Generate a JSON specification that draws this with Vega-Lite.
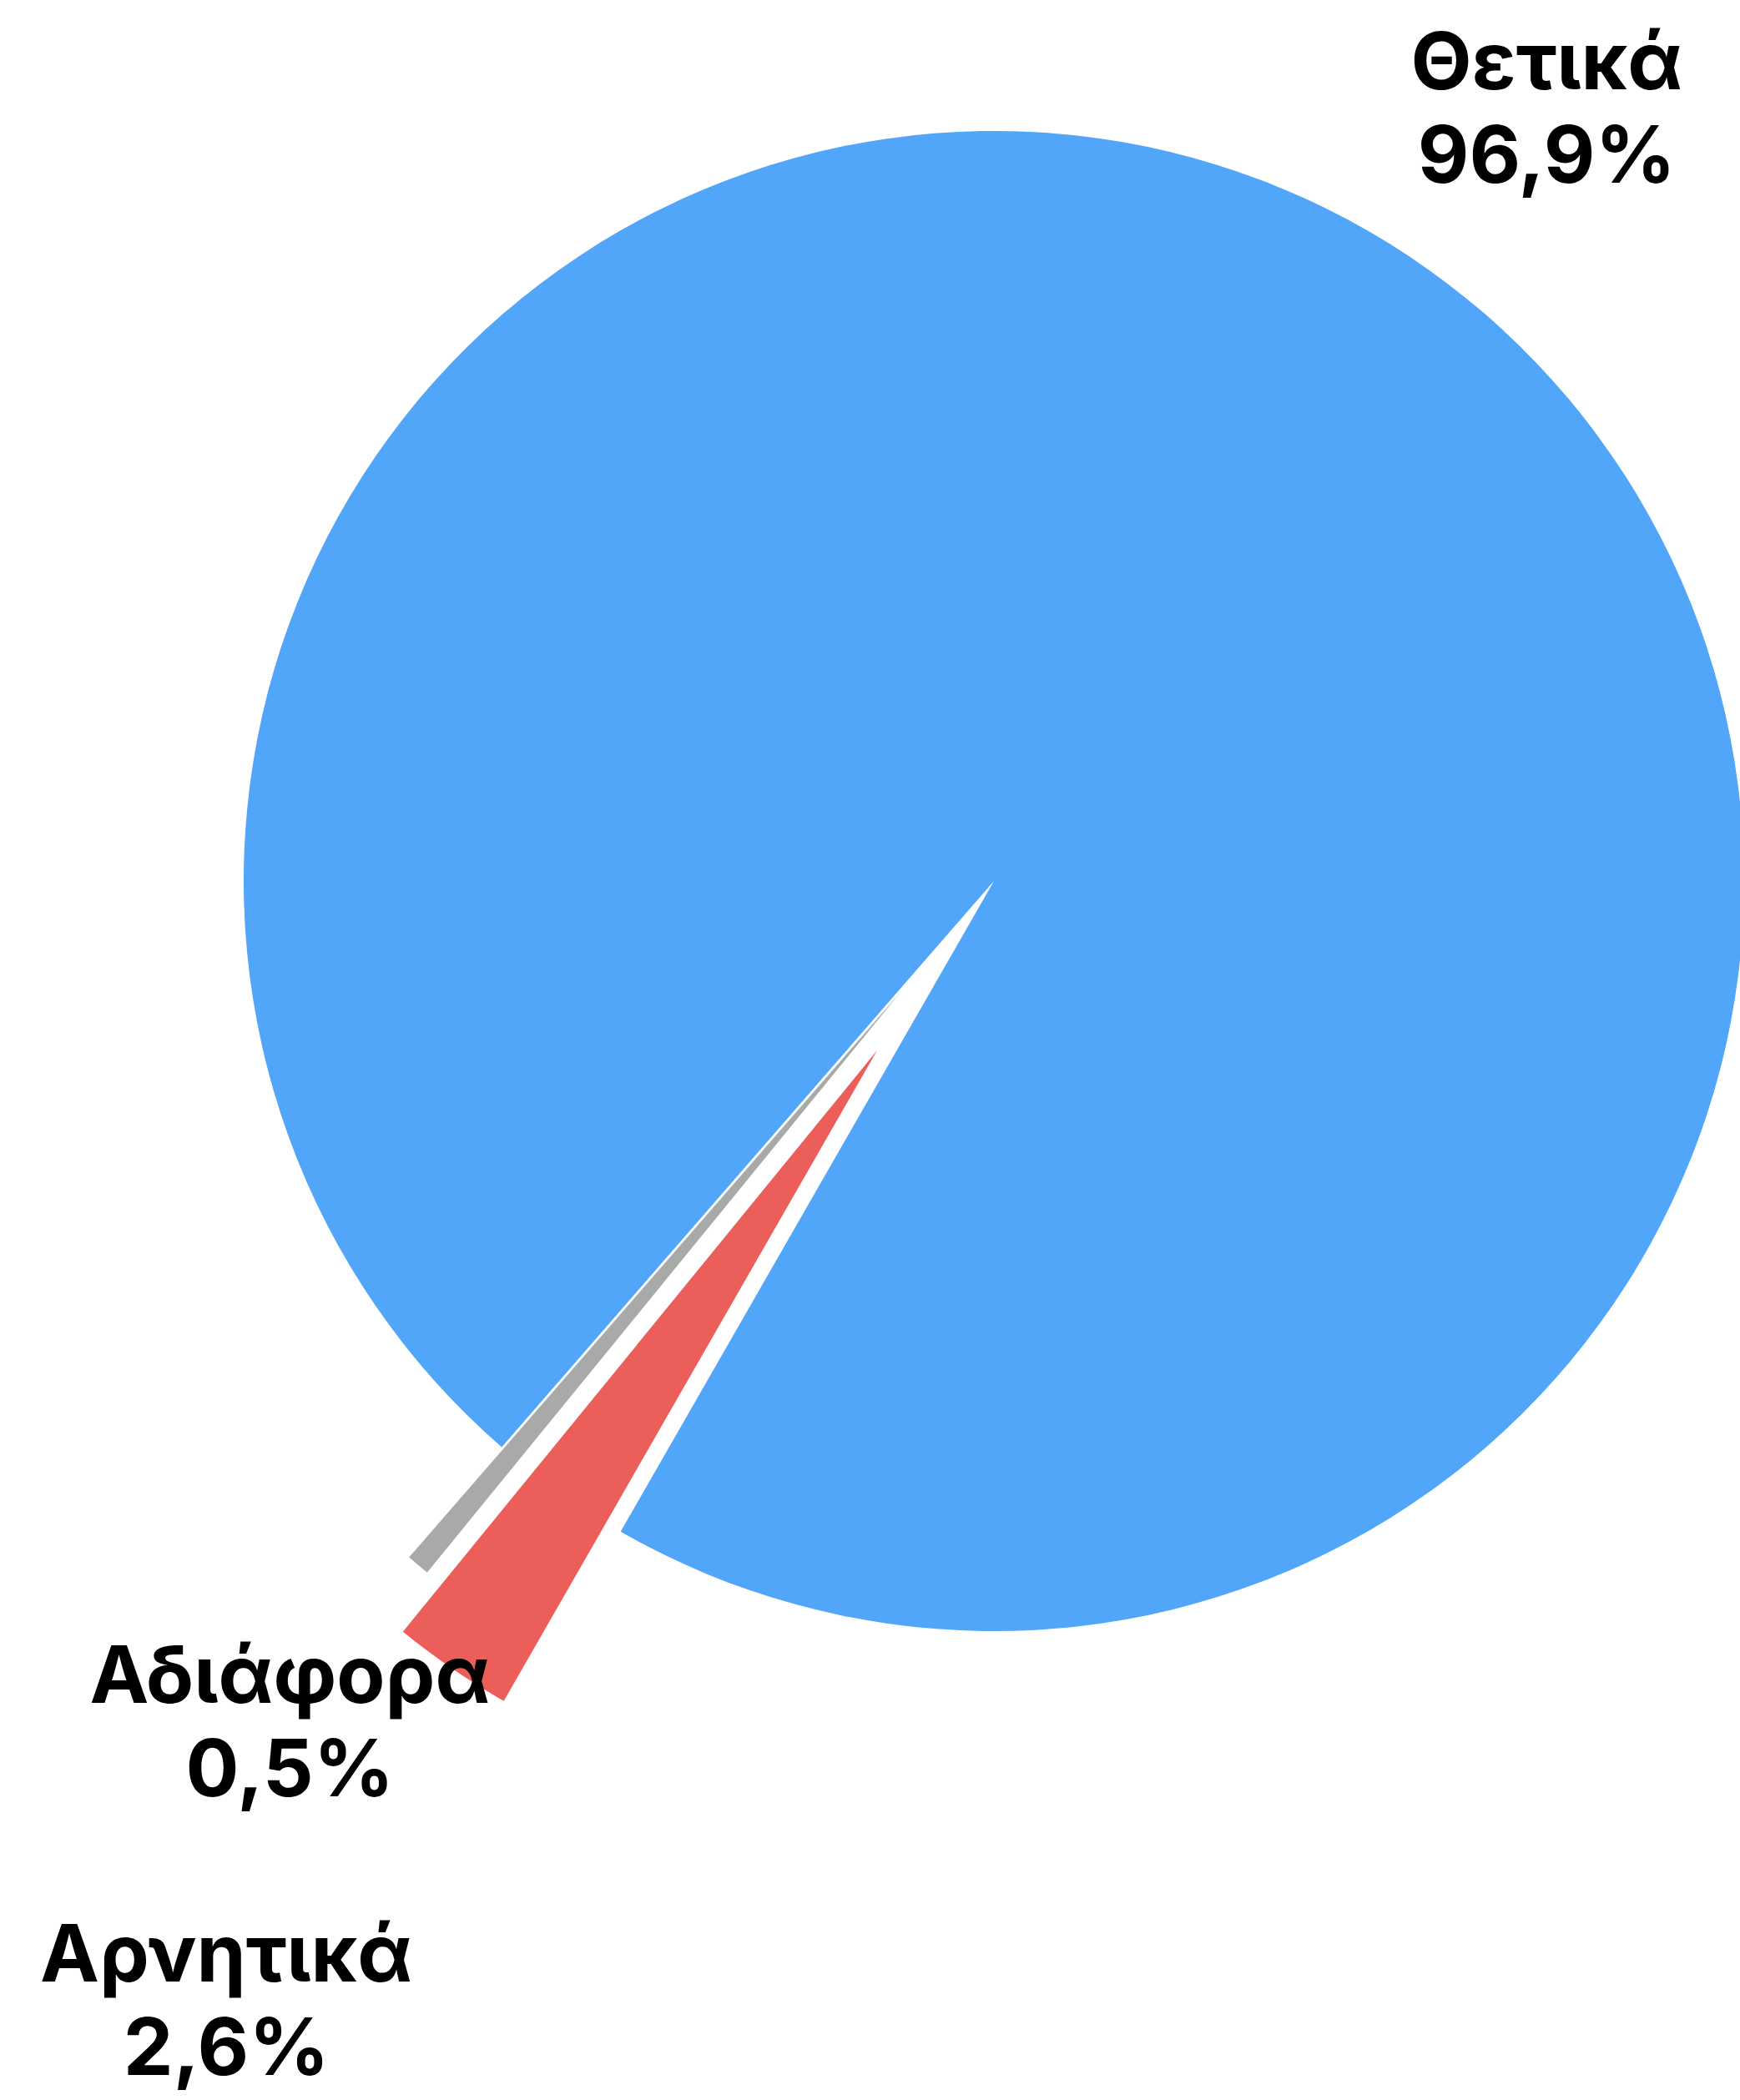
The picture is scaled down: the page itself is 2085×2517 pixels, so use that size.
{
  "$schema": "https://vega.github.io/schema/vega-lite/v6.json",
  "autosize": "none",
  "width": 1788,
  "height": 1788,
  "padding": {"left": 297, "top": 162, "right": 0, "bottom": 567},
  "background": "white",
  "config": {"view": {"stroke": null}},
  "data": {
    "values": [
      {"category": "Αρνητικά", "share": 2.6, "share_label": "2,6%"},
      {"category": "Αδιάφορα", "share": 0.5, "share_label": "0,5%"},
      {"category": "Θετικά", "share": 96.9, "share_label": "96,9%"}
    ]
  },
  "transform": [
    {"stack": "share", "groupby": [], "as": ["start", "end"]},
    {"calculate": "(datum.start + datum.end) / 2", "as": "mid"},
    {"calculate": "datum.category + '\\n' + datum.share_label", "as": "label"}
  ],
  "layer": [
    {
      "transform": [{"filter": "datum.category == 'Θετικά'"}],
      "mark": {"type": "arc", "radius": 899, "color": "#52A6F9"},
      "encoding": {
        "theta": {"field": "start", "type": "quantitative", "stack": null,
          "scale": {"domain": [0, 100], "range": [3.6624, 9.9456]}},
        "theta2": {"field": "end"}
      }
    },
    {
      "transform": [{"filter": "datum.category == 'Αρνητικά'"}],
      "mark": {"type": "arc", "radius": 899, "color": "#EC5E59", "xOffset": -140, "yOffset": 203},
      "encoding": {
        "theta": {"field": "start", "type": "quantitative", "stack": null,
          "scale": {"domain": [0, 100], "range": [3.6624, 9.9456]}},
        "theta2": {"field": "end"}
      }
    },
    {
      "transform": [{"filter": "datum.category == 'Αδιάφορα'"}],
      "mark": {"type": "arc", "radius": 899, "color": "#A7AAA9", "xOffset": -111, "yOffset": 132},
      "encoding": {
        "theta": {"field": "start", "type": "quantitative", "stack": null,
          "scale": {"domain": [0, 100], "range": [3.6624, 9.9456]}},
        "theta2": {"field": "end"}
      }
    },
    {
      "transform": [{"filter": "datum.category == 'Θετικά'"}],
      "mark": {"type": "text", "radius": 1136, "dx": 4, "dy": -52, "font": "Inter", "fontWeight": "bold",
        "fontSize": 95, "lineHeight": 112, "lineBreak": "\n", "align": "center", "baseline": "middle", "color": "black"},
      "encoding": {
        "theta": {"field": "mid", "type": "quantitative", "stack": null,
          "scale": {"domain": [0, 100], "range": [3.6624, 9.9456]}},
        "text": {"field": "label"}
      }
    },
    {
      "transform": [{"filter": "datum.category == 'Αδιάφορα'"}],
      "mark": {"type": "text", "radius": 1319, "dx": 6, "dy": -53, "font": "Inter", "fontWeight": "bold",
        "fontSize": 95, "lineHeight": 112, "lineBreak": "\n", "align": "center", "baseline": "middle", "color": "black"},
      "encoding": {
        "theta": {"field": "mid", "type": "quantitative", "stack": null,
          "scale": {"domain": [0, 100], "range": [3.6624, 9.9456]}},
        "text": {"field": "label"}
      }
    },
    {
      "transform": [{"filter": "datum.category == 'Αρνητικά'"}],
      "mark": {"type": "text", "radius": 1632, "dx": 5, "dy": -55, "font": "Inter", "fontWeight": "bold",
        "fontSize": 95, "lineHeight": 112, "lineBreak": "\n", "align": "center", "baseline": "middle", "color": "black"},
      "encoding": {
        "theta": {"field": "mid", "type": "quantitative", "stack": null,
          "scale": {"domain": [0, 100], "range": [3.6624, 9.9456]}},
        "text": {"field": "label"}
      }
    }
  ]
}
